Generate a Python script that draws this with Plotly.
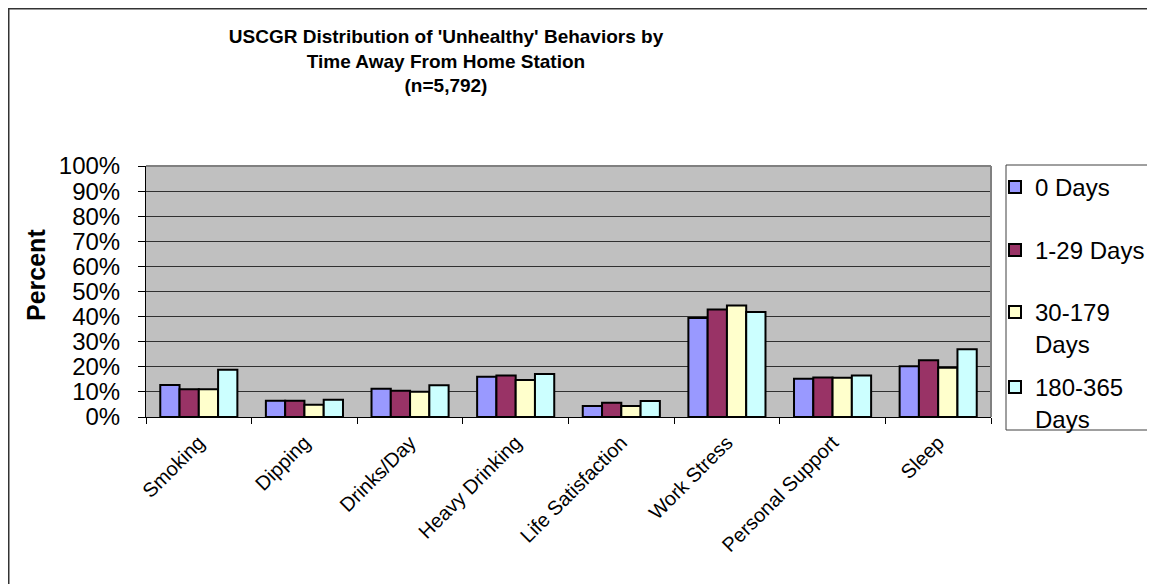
import plotly.graph_objects as go

categories = ["Smoking", "Dipping", "Drinks/Day", "Heavy Drinking", "Life Satisfaction",
              "Work Stress", "Personal Support", "Sleep"]
series_names = ["0 Days", "1-29 Days", "30-179<br>Days", "180-365<br>Days"]
days_0 = [12.7, 6.5, 11.3, 16.0, 4.4, 39.4, 15.2, 20.2]
days_1_29 = [11.1, 6.5, 10.5, 16.5, 5.7, 42.8, 15.7, 22.6]
days_30_179 = [11.1, 4.9, 10.1, 14.7, 4.4, 44.4, 15.6, 19.6]
days_180_365 = [18.8, 6.9, 12.6, 17.1, 6.4, 41.8, 16.5, 27.0]
y_ticks = [0, 10, 20, 30, 40, 50, 60, 70, 80, 90, 100]
y_tick_labels = [f"{v}%" for v in y_ticks]

colors = ["#9999FF", "#993366", "#FFFFCC", "#CCFFFF"]
all_series = [days_0, days_1_29, days_30_179, days_180_365]

W, H = 1155, 584
L, R, T, B = 138, 172, 158, 175
pw = W - L - R
ph = H - T - B
def px_x(v):
    return (v - L) / pw
def px_y(v):
    return (H - B - v) / ph

legend_names = ["legend", "legend2", "legend3", "legend4"]
legend_tops = [157, 220, 282, 357]

fig = go.Figure()
for name, vals, col, lg in zip(series_names, all_series, colors, legend_names):
    fig.add_trace(go.Bar(
        x=categories, y=vals, name=name, legend=lg,
        marker=dict(color=col, line=dict(color="black", width=2)),
    ))

FONT = "Arial, Liberation Sans, sans-serif"
legend_common = dict(
    x=px_x(987), xanchor="left", yanchor="top", valign="top",
    font=dict(size=24, family=FONT, color="black"),
    bgcolor="rgba(0,0,0,0)", borderwidth=0, itemclick=False,
)
legends = {}
for lg, top in zip(legend_names, legend_tops):
    legends[lg] = dict(legend_common, y=px_y(top))

fig.update_layout(
    width=W, height=H,
    margin=dict(l=L, r=R, t=T, b=B),
    paper_bgcolor="white", plot_bgcolor="#C0C0C0",
    barmode="group", bargap=0.27, bargroupgap=0,
    font=dict(family=FONT, color="black"),
    title=dict(
        text="<b>USCGR Distribution of 'Unhealthy' Behaviors by<br>Time Away From Home Station<br>(n=5,792)</b>",
        x=438 / W, xanchor="center", y=1 - 35 / H, yanchor="top",
        font=dict(size=19, family=FONT, color="black"),
    ),
    xaxis=dict(
        type="category", tickangle=-45, tickson="boundaries",
        ticks="outside", ticklen=6, tickcolor="black", ticklabelstandoff=5,
        showline=True, linecolor="black", linewidth=1,
        tickfont=dict(size=20), showgrid=False,
    ),
    yaxis=dict(
        range=[0, 100], tickvals=y_ticks, ticktext=y_tick_labels,
        ticks="outside", ticklen=7, tickcolor="black", ticklabelstandoff=13,
        showline=True, linecolor="black", linewidth=1,
        showgrid=True, gridcolor="#303030", gridwidth=1,
        tickfont=dict(size=24), zeroline=False,
    ),
    annotations=[dict(
        text="<b>Percent</b>", textangle=-90, showarrow=False,
        xref="paper", yref="paper", x=px_x(28), y=px_y(267),
        xanchor="center", yanchor="middle",
        font=dict(size=25, family=FONT, color="black"),
    )],
    showlegend=True,
    **legends,
)

shapes = [
    dict(type="line", xref="paper", yref="paper", x0=0, x1=1, y0=1, y1=1,
         line=dict(color="#808080", width=2)),
    dict(type="line", xref="paper", yref="paper", x0=1, x1=1, y0=0, y1=1,
         line=dict(color="#808080", width=2)),
    dict(type="rect", xref="paper", yref="paper",
         x0=px_x(998), x1=px_x(1145), y0=px_y(422), y1=px_y(157),
         line=dict(color="#404040", width=1)),
    dict(type="line", xref="paper", yref="paper",
         x0=px_x(0), x1=px_x(W), y0=px_y(0.5), y1=px_y(0.5),
         line=dict(color="#333333", width=2)),
    dict(type="line", xref="paper", yref="paper",
         x0=px_x(0.5), x1=px_x(0.5), y0=px_y(0), y1=px_y(H),
         line=dict(color="#333333", width=2)),
]
fig.update_layout(shapes=shapes)

fig.write_html("out.html")
